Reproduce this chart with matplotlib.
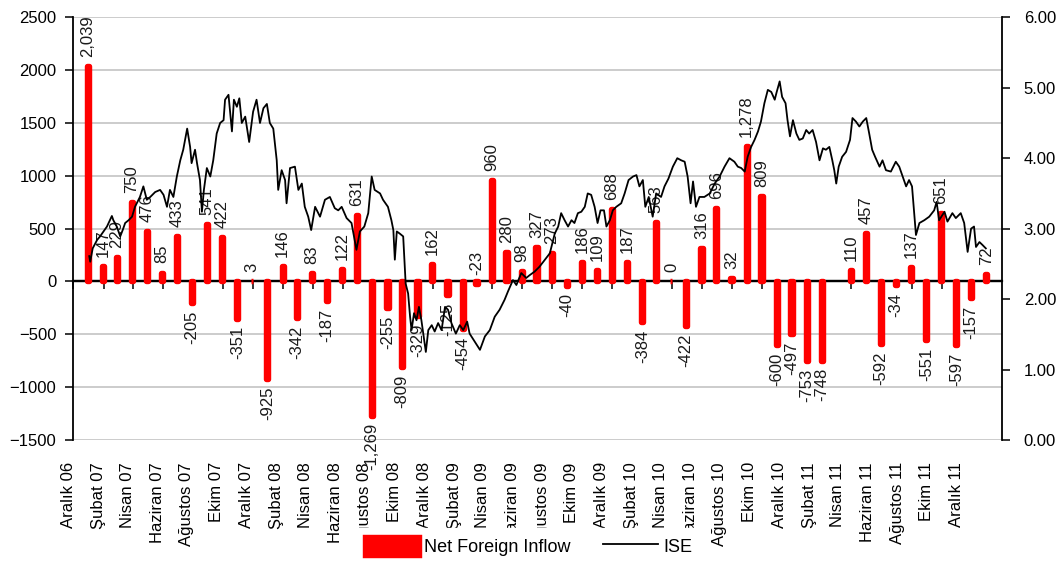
import numpy as np
import pandas as pd
import matplotlib
matplotlib.use('Agg')
import matplotlib.pyplot as plt
import matplotlib.dates as mdates
from matplotlib.transforms import ScaledTranslation

plt.rcParams['font.family'] = ['Liberation Sans', 'DejaVu Sans']
plt.rcParams['font.size'] = 12

# net foreign inflow (mn USD), monthly Dec 2006 - Dec 2011, Feb 2011 missing
inflow = [2039, 147, 229, 750, 476, 85, 433, -205, 541, 422, -351, 3,
          -925, 146, -342, 83, -187, 122, 631, -1269, -255, -809, -329, 162,
          -125, -454, -23, 960, 280, 98, 327, 273, -40, 186, 109, 688,
          187, -384, 563, 0, -422, 316, 696, 32, 1278, 809, -600, -497,
          -753, -748, np.nan, 110, 457, -592, -34, 137, -551, 651, -597, -157,
          72]

# ISE index (right axis), days counted from 1 Dec 2006
ise_day = [33, 35, 40, 49, 55, 62, 69, 79, 82, 89, 96, 101, 106, 113, 120, 126, 136, 143, 150, 157,
           167, 177, 184, 191, 197, 204, 211, 218, 224, 232, 238, 241, 248, 252, 258, 262, 266, 272, 279, 285,
           292, 299, 306, 309, 316, 323, 327, 333, 338, 343, 350, 358, 366, 373, 380, 387, 394, 400, 407, 414,
           417, 424, 431, 434, 441, 451, 458, 465, 471, 478, 484, 492, 502, 512, 522, 532, 539, 546, 556, 566,
           576, 583, 592, 600, 607, 613, 624, 630, 640, 647, 651, 654, 658, 664, 671, 676, 681, 685, 688, 693,
           698, 703, 708, 717, 722, 729, 735, 742, 749, 756, 762, 769, 778, 786, 793, 801, 806, 816, 827, 837,
           847, 857, 867, 877, 884, 894, 901, 911, 921, 928, 938, 948, 959, 969, 979, 986, 992, 999, 1006, 1013,
           1019, 1026, 1033, 1040, 1046, 1053, 1060, 1066, 1072, 1079, 1084, 1091, 1097, 1104, 1114, 1121, 1129, 1138, 1145, 1151,
           1158, 1163, 1170, 1178, 1185, 1195, 1202, 1210, 1219, 1228, 1236, 1243, 1249, 1255, 1260, 1266, 1273, 1283, 1294, 1304,
           1314, 1324, 1334, 1344, 1351, 1358, 1365, 1371, 1378, 1385, 1392, 1398, 1405, 1412, 1419, 1426, 1430, 1436, 1441, 1448,
           1452, 1457, 1463, 1470, 1476, 1483, 1490, 1496, 1503, 1510, 1517, 1524, 1530, 1537, 1543, 1547, 1551, 1556, 1563, 1571,
           1579, 1584, 1591, 1598, 1605, 1612, 1618, 1624, 1630, 1639, 1645, 1652, 1662, 1672, 1679, 1686, 1693, 1699, 1705, 1710,
           1713, 1720, 1730, 1740, 1750, 1755, 1760, 1771, 1777, 1787, 1794, 1804, 1811, 1818, 1825, 1831, 1835, 1842, 1848, 1855]
ise_val = [2.61, 2.53, 2.72, 2.84, 2.89, 2.96, 3.03, 3.18, 3.12, 3.03, 2.89, 2.98, 3.08, 3.12, 3.17, 3.31, 3.45, 3.60, 3.41, 3.45,
           3.52, 3.55, 3.48, 3.31, 3.55, 3.45, 3.74, 3.97, 4.12, 4.42, 4.16, 3.93, 4.12, 3.93, 3.69, 3.24, 3.55, 3.86, 3.74, 3.97,
           4.35, 4.50, 4.54, 4.83, 4.90, 4.38, 4.83, 4.73, 4.85, 4.50, 4.59, 4.23, 4.66, 4.83, 4.50, 4.71, 4.77, 4.50, 4.42, 3.97,
           3.55, 3.83, 3.69, 3.36, 3.86, 3.88, 3.55, 3.64, 3.31, 3.17, 2.98, 3.31, 3.17, 3.41, 3.45, 3.29, 3.26, 3.31, 3.15, 3.08,
           2.70, 2.96, 3.03, 3.22, 3.74, 3.55, 3.50, 3.41, 3.31, 3.12, 2.98, 2.56, 2.96, 2.93, 2.89, 2.22, 2.08, 1.75, 1.56, 1.80,
           1.70, 1.89, 1.70, 1.25, 1.56, 1.63, 1.54, 1.66, 1.56, 1.89, 1.85, 1.66, 1.51, 1.63, 1.56, 1.68, 1.51, 1.40, 1.28, 1.47,
           1.56, 1.75, 1.85, 1.99, 2.11, 2.27, 2.20, 2.37, 2.30, 2.34, 2.39, 2.46, 2.56, 2.65, 2.93, 3.03, 3.22, 3.12, 3.03, 3.12,
           3.08, 3.22, 3.24, 3.31, 3.50, 3.48, 3.31, 3.08, 3.26, 3.26, 3.03, 3.12, 3.26, 3.31, 3.36, 3.50, 3.69, 3.74, 3.76, 3.60,
           3.69, 3.31, 3.45, 3.17, 3.50, 3.45, 3.60, 3.71, 3.88, 4.00, 3.97, 3.95, 3.74, 3.36, 3.67, 3.31, 3.45, 3.45, 3.50, 3.64,
           3.74, 3.88, 4.00, 3.95, 3.88, 3.86, 3.81, 4.02, 4.16, 4.26, 4.38, 4.52, 4.78, 4.97, 4.94, 4.83, 4.94, 5.09, 4.87, 4.78,
           4.54, 4.31, 4.54, 4.35, 4.26, 4.28, 4.40, 4.35, 4.40, 4.23, 3.97, 4.14, 4.12, 4.16, 3.97, 3.83, 3.64, 3.88, 4.02, 4.09,
           4.26, 4.57, 4.52, 4.45, 4.52, 4.57, 4.35, 4.12, 4.02, 3.88, 3.97, 3.83, 3.81, 3.95, 3.88, 3.74, 3.60, 3.69, 3.60, 3.17,
           2.91, 3.08, 3.12, 3.17, 3.26, 3.38, 3.12, 3.24, 3.10, 3.22, 3.15, 3.22, 3.08, 2.67, 3.00, 3.03, 2.74, 2.81, 2.77, 2.72]

month_names = ['Aralık', 'Şubat', 'Nisan', 'Haziran', 'Ağustos', 'Ekim']

start = pd.Timestamp('2006-12-01')
months = pd.date_range('2006-12-31', periods=len(inflow), freq='ME')
ticks = pd.date_range(start, '2011-12-01', freq='2MS')
tick_labels = [f"{month_names[i % 6]} {d.year % 100:02d}" for i, d in enumerate(ticks)]

x_bar = mdates.date2num(months)
x_ise = mdates.date2num(start + pd.to_timedelta(ise_day, unit='D'))
x_tick = mdates.date2num(ticks)
vals = np.array(inflow, dtype=float)
ok = ~np.isnan(vals)

fig = plt.figure(figsize=(10.61, 5.65), dpi=100)
ax = fig.add_axes([0.0688, 0.2212, 0.8752, 0.7482])

bars = ax.bar(x_bar[ok], vals[ok], width=4.5, color='#ff0000', edgecolor='#ff0000',
              linewidth=3.9, joinstyle='round', zorder=3)
ax.axhline(0, color='black', linewidth=1.6, zorder=2.5)

for x, v in zip(x_bar[ok], vals[ok]):
    up = v > -30
    ax.annotate(f'{v:,.0f}', xy=(x, v), xytext=(0, 6.5 if up else -5.5),
                textcoords='offset points', rotation=90, ha='center',
                va='bottom' if up else 'top', fontsize=12, color='#1a1a1a',
                annotation_clip=False, zorder=4)

ax.set_xlim(mdates.date2num(start), mdates.date2num(pd.Timestamp('2012-01-31')))
ax.set_ylim(-1500, 2500)
ax.set_yticks(np.arange(-1500, 2501, 500))
ax.yaxis.grid(True, color='#c8c8c8', linewidth=1.3)
ax.set_axisbelow(True)

ax.set_xticks(x_tick, labels=tick_labels, rotation=90)
ax.tick_params(axis='x', length=0, pad=16)
ax.tick_params(axis='y', direction='out', length=6, width=1.1, pad=6)
for k, lbl in enumerate(ax.get_xticklabels()):
    lbl.set_transform(lbl.get_transform() +
                      ScaledTranslation(-(4.3 + 0.36 * k) / 100, 0, fig.dpi_scale_trans))

for s in ['top', 'bottom', 'right']:
    ax.spines[s].set_visible(False)
ax.spines['left'].set_linewidth(1.3)

# tick marks hanging from the zero line
zero = ax.secondary_xaxis(0, transform=ax.transData)
zero.set_xticks(x_tick, labels=[''] * len(x_tick))
zero.tick_params(direction='out', length=5.5, width=1.1, color='black')
zero.spines['bottom'].set_linewidth(1.6)

ax2 = ax.twinx()
line, = ax2.plot(x_ise, ise_val, color='black', linewidth=1.3, zorder=5)
ax2.set_ylim(0, 6)
ax2.set_yticks(np.arange(0, 6.01, 1))
ax2.yaxis.set_major_formatter(matplotlib.ticker.FormatStrFormatter('%.2f'))
ax2.tick_params(axis='y', direction='out', length=6, width=1.1, pad=10)
for s in ['top', 'bottom', 'left']:
    ax2.spines[s].set_visible(False)
ax2.spines['right'].set_linewidth(1.3)

fig.legend([bars, line], ['Net Foreign Inflow', 'ISE'], loc='center',
           bbox_to_anchor=(0.498, 0.033), ncol=2, frameon=True, fancybox=False,
           edgecolor='white', facecolor='white', framealpha=1, handlelength=3.0,
           handleheight=1.2, handletextpad=0.3, columnspacing=1.8, borderpad=0.5,
           fontsize=13)

fig.savefig('out.png', dpi=100)
